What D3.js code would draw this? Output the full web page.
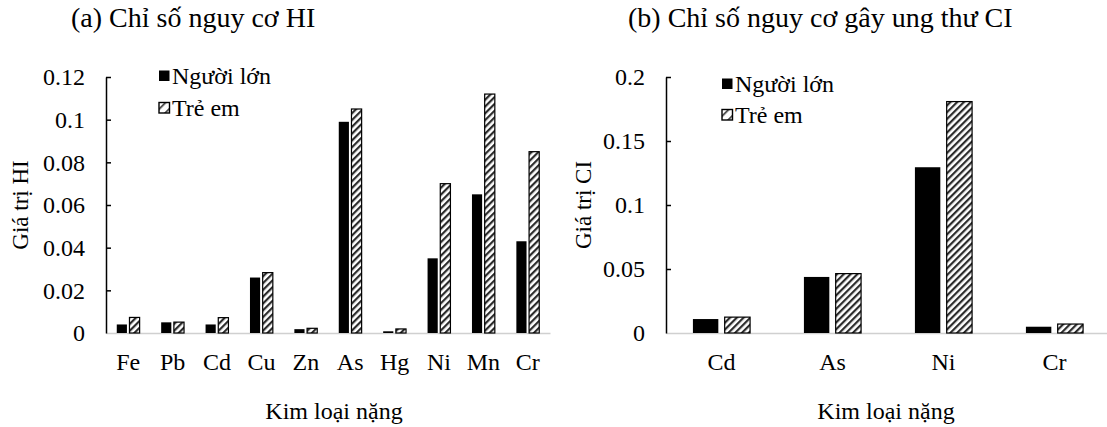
<!DOCTYPE html>
<html>
<head>
<meta charset="utf-8">
<script src="https://cdn.jsdelivr.net/npm/d3@7"></script>
<style>
    html, body { margin: 0; padding: 0; background: #fff; }
    svg text { font-family: "Liberation Serif", "Times New Roman", serif; fill: #000; }
</style>
</head>
<body>
<svg id="chart"></svg>
<script>
const seriesNames = ['Người lớn', 'Trẻ em'];

const hiMetals = ['Fe', 'Pb', 'Cd', 'Cu', 'Zn', 'As', 'Hg', 'Ni', 'Mn', 'Cr'];
const hiAdult = [0.004, 0.005, 0.004, 0.026, 0.0018, 0.099, 0.0008, 0.035, 0.065, 0.043];
const hiChild = [0.0073, 0.0051, 0.0072, 0.0283, 0.0022, 0.105, 0.0019, 0.070, 0.112, 0.085];
const hiTicks = [0, 0.02, 0.04, 0.06, 0.08, 0.1, 0.12];

const ciMetals = ['Cd', 'As', 'Ni', 'Cr'];
const ciAdult = [0.0109, 0.0438, 0.1295, 0.0049];
const ciChild = [0.0124, 0.0464, 0.1808, 0.007];
const ciTicks = [0, 0.05, 0.1, 0.15, 0.2];

const serif = '"Liberation Serif", "Times New Roman", serif';

class RiskPanel {
    constructor(svg, opts) {
        this.svg = svg;
        this.opts = opts;
        this.draw();
    }

    draw() {
        const o = this.opts;
        const g = this.svg.append('g');

        const x0 = d3.scaleBand()
            .domain(o.metals)
            .range([o.left, o.right]);

        const groupW = x0.bandwidth() * 0.515;
        const off = (x0.bandwidth() - groupW) / 2;
        const x1 = d3.scaleBand()
            .domain(seriesNames)
            .range([off, off + groupW])
            .paddingInner(0.2);

        const y = d3.scaleLinear()
            .domain([0, o.ticks[o.ticks.length - 1]])
            .range([o.bottom, o.top]);

        // x axis (gray, no ticks)
        const xAxis = g.append('g')
            .attr('transform', `translate(0,${o.bottom})`)
            .call(d3.axisBottom(x0).tickSize(0).tickPadding(20));
        xAxis.select('.domain').attr('stroke', '#d0d0d0').attr('stroke-width', 1.5);
        xAxis.selectAll('text')
            .style('font-family', serif)
            .style('font-size', '24px');

        const rows = o.metals.map((m, i) => ({ metal: m, values: [o.adult[i], o.child[i]] }));

        const groups = g.append('g')
            .selectAll('g')
            .data(rows)
            .enter()
            .append('g')
            .attr('transform', d => `translate(${x0(d.metal)},0)`);

        groups.selectAll('rect')
            .data(d => d.values.map((v, k) => ({ name: seriesNames[k], value: v, k })))
            .enter()
            .append('rect')
            .attr('x', d => x1(d.name))
            .attr('width', x1.bandwidth())
            .attr('y', d => y(d.value))
            .attr('height', d => o.bottom - y(d.value))
            .attr('fill', d => d.k === 0 ? '#000' : 'url(#hatch)')
            .attr('stroke', '#000')
            .attr('stroke-width', d => d.k === 0 ? 0 : 1.2);

        // y axis, ticks inside
        const yAxis = g.append('g')
            .attr('transform', `translate(${o.left},0)`)
            .call(d3.axisLeft(y)
                .tickValues(o.ticks)
                .tickFormat(d => String(d))
                .tickSizeInner(-5)
                .tickSizeOuter(0)
                .tickPadding(21));
        yAxis.select('.domain').attr('stroke', '#000').attr('stroke-width', 1.5);
        yAxis.selectAll('.tick line').attr('stroke', '#000').attr('stroke-width', 1.5);
        yAxis.selectAll('.tick').filter(d => d === 0).select('line').remove();
        yAxis.selectAll('text')
            .style('font-family', serif)
            .style('font-size', '24px');

        // titles
        g.append('text')
            .attr('x', o.titleX)
            .attr('y', 27)
            .style('font-size', '28px')
            .text(o.title);

        g.append('text')
            .attr('x', o.xLabelX)
            .attr('y', 419)
            .attr('text-anchor', 'middle')
            .style('font-size', '24px')
            .text('Kim loại nặng');

        g.append('text')
            .attr('transform', `translate(${o.yLabelX},${(o.top + o.bottom) / 2}) rotate(-90)`)
            .attr('text-anchor', 'middle')
            .attr('dy', '0.35em')
            .style('font-size', '23px')
            .text(o.yLabel);

        // legend
        const lg = g.append('g').attr('transform', `translate(${o.legendX},${o.legendY})`);
        seriesNames.forEach((name, k) => {
            const row = lg.append('g').attr('transform', `translate(0,${k * o.legendGap})`);
            row.append('rect')
                .attr('x', 0).attr('y', -5.5)
                .attr('width', 10.5).attr('height', 10.5)
                .attr('fill', k === 0 ? '#000' : 'url(#hatch-small)')
                .attr('stroke', '#000')
                .attr('stroke-width', k === 0 ? 0 : 1.4);
            row.append('text')
                .attr('x', 13)
                .attr('y', 0)
                .attr('dy', '0.35em')
                .style('font-size', '24px')
                .text(name);
        });
    }
}

document.addEventListener('DOMContentLoaded', () => {
    const width = 1107, height = 427;
    const svg = d3.select('#chart')
        .attr('width', width)
        .attr('height', height)
        .style('display', 'block');

    const defs = svg.append('defs');
    defs.append('pattern')
        .attr('id', 'hatch')
        .attr('patternUnits', 'userSpaceOnUse')
        .attr('width', 4.8).attr('height', 4.8)
        .attr('patternTransform', 'rotate(45)')
        .call(p => {
            p.append('rect').attr('width', 4.8).attr('height', 4.8).attr('fill', '#fff');
            p.append('rect').attr('width', 2.2).attr('height', 4.8).attr('fill', '#2b2b2b');
        });
    defs.append('pattern')
        .attr('id', 'hatch-small')
        .attr('patternUnits', 'userSpaceOnUse')
        .attr('width', 7).attr('height', 7)
        .attr('patternTransform', 'rotate(45)')
        .call(p => {
            p.append('rect').attr('width', 7).attr('height', 7).attr('fill', '#fff');
            p.append('rect').attr('width', 1.6).attr('height', 7).attr('fill', '#333');
        });

    new RiskPanel(svg, {
        metals: hiMetals, adult: hiAdult, child: hiChild, ticks: hiTicks,
        left: 106, right: 550, top: 77, bottom: 333,
        title: '(a) Chỉ số nguy cơ HI', titleX: 71,
        xLabelX: 334, yLabel: 'Giá trị HI', yLabelX: 20,
        legendX: 159, legendY: 76, legendGap: 32
    });

    new RiskPanel(svg, {
        metals: ciMetals, adult: ciAdult, child: ciChild, ticks: ciTicks,
        left: 666, right: 1110, top: 77, bottom: 333,
        title: '(b) Chỉ số nguy cơ gây ung thư CI', titleX: 628,
        xLabelX: 886, yLabel: 'Giá trị CI', yLabelX: 583,
        legendX: 722, legendY: 84, legendGap: 31
    });
});
</script>
</body>
</html>
